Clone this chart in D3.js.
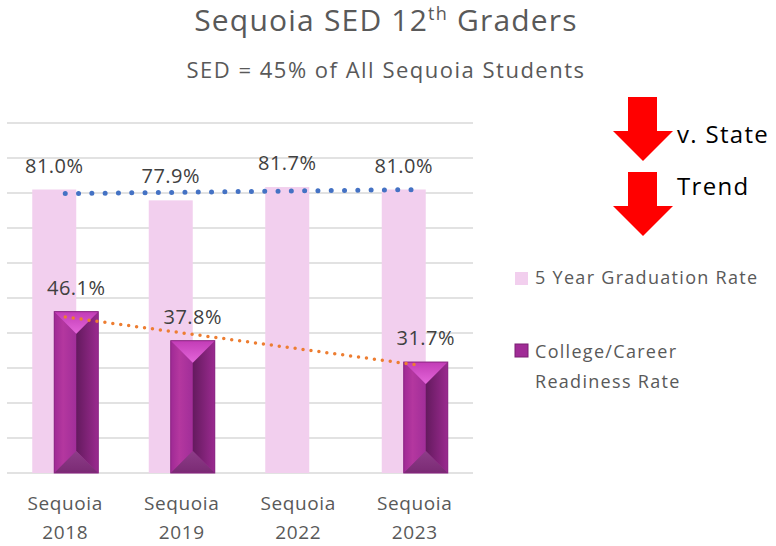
<!DOCTYPE html>
<html>
<head>
<meta charset="utf-8">
<script src="https://cdn.jsdelivr.net/npm/d3@7"></script>
<style>
  body { margin: 0; background: #fff; }
  text { font-family: "Open Sans", sans-serif; }
</style>
</head>
<body>
<script>
// data
var categories = ["Sequoia 2018", "Sequoia 2019", "Sequoia 2022", "Sequoia 2023"];
var gradRate = [81.0, 77.9, 81.7, 81.0];
var ccrRate = [46.1, 37.8, null, 31.7];
var yTicks = [0, 10, 20, 30, 40, 50, 60, 70, 80, 90, 100];
var seriesNames = ["5 Year Graduation Rate", "College/Career Readiness Rate"];

var W = 776, H = 546;
var svg = d3.select("body").append("svg").attr("width", W).attr("height", H);

var x = d3.scaleBand().domain(categories).range([7, 473]).padding(0);
var y = d3.scaleLinear().domain([0, 100]).range([473, 123]);
var barW = 44;
var cx = function(i){ return x(categories[i]) + x.bandwidth()/2; };

var defs = svg.append("defs");
var gL = defs.append("linearGradient").attr("id", "gl").attr("x1", 0).attr("x2", 1).attr("y1", 0).attr("y2", 0);
gL.append("stop").attr("offset", "0%").attr("stop-color", "#9f2a95");
gL.append("stop").attr("offset", "40%").attr("stop-color", "#b4379f");
gL.append("stop").attr("offset", "100%").attr("stop-color", "#a12e99");
var gR = defs.append("linearGradient").attr("id", "gr").attr("x1", 0).attr("x2", 1).attr("y1", 0).attr("y2", 0);
gR.append("stop").attr("offset", "0%").attr("stop-color", "#641a5e");
gR.append("stop").attr("offset", "100%").attr("stop-color", "#9a2a8f");
var gT = defs.append("linearGradient").attr("id", "gt").attr("x1", 0).attr("x2", 0).attr("y1", 0).attr("y2", 1);
gT.append("stop").attr("offset", "0%").attr("stop-color", "#c23cb6");
gT.append("stop").attr("offset", "100%").attr("stop-color", "#e466da");
var gB = defs.append("linearGradient").attr("id", "gb").attr("x1", 0).attr("x2", 0).attr("y1", 0).attr("y2", 1);
gB.append("stop").attr("offset", "0%").attr("stop-color", "#8d3d88");
gB.append("stop").attr("offset", "100%").attr("stop-color", "#7a2a74");

// title
svg.append("text").attr("x", 386).attr("y", 31).attr("text-anchor", "middle")
  .attr("font-size", 30).attr("letter-spacing", 1.2).attr("fill", "#595959")
  .html('Sequoia SED 12<tspan dy="-11" font-size="18">th</tspan><tspan dy="11"> Graders</tspan>');
svg.append("text").attr("x", 386).attr("y", 78).attr("text-anchor", "middle")
  .attr("font-size", 22).attr("letter-spacing", 1.5).attr("fill", "#595959").text("SED = 45% of All Sequoia Students");

// gridlines
svg.selectAll("line.grid").data(yTicks).enter().append("line")
  .attr("class", "grid")
  .attr("x1", 7).attr("x2", 473)
  .attr("y1", function(d){ return y(d); }).attr("y2", function(d){ return y(d); })
  .attr("stroke", "#d9d9d9").attr("stroke-width", 1.5);

// graduation bars
svg.selectAll("rect.grad").data(gradRate).enter().append("rect")
  .attr("class", "grad")
  .attr("x", function(d, i){ return cx(i) - 33; })
  .attr("y", function(d){ return y(d); })
  .attr("width", barW)
  .attr("height", function(d){ return y(0) - y(d); })
  .attr("fill", "#f2cfee");

// ccr bars (bevelled)
var ccrData = ccrRate.map(function(d, i){ return {v: d, i: i}; }).filter(function(d){ return d.v != null; });
function poly(pts){ return pts.map(function(p){ return p.join(","); }).join(" "); }
svg.selectAll("g.ccr").data(ccrData).enter().append("g").attr("class", "ccr")
  .each(function(d){
    var g = d3.select(this);
    var x0 = cx(d.i) - 11, x1 = x0 + barW, mx = x0 + barW/2;
    var t = y(d.v), b = y(0), h = barW/2;
    g.append("rect").attr("x", x0).attr("y", t).attr("width", barW).attr("height", b - t).attr("fill", "#a02c96");
    g.append("polygon").attr("points", poly([[x0,t],[mx,t+h],[mx,b-h],[x0,b]])).attr("fill", "url(#gl)");
    g.append("polygon").attr("points", poly([[x1,t],[mx,t+h],[mx,b-h],[x1,b]])).attr("fill", "url(#gr)");
    g.append("polygon").attr("points", poly([[x0,t],[x1,t],[mx,t+h]])).attr("fill", "url(#gt)");
    g.append("polygon").attr("points", poly([[x0,b],[x1,b],[mx,b-h]])).attr("fill", "url(#gb)");
    g.append("rect").attr("x", x0).attr("y", t).attr("width", barW).attr("height", b - t)
      .attr("fill", "none").attr("stroke", "#8a2582").attr("stroke-width", 1);
  });

// linear trendlines (least squares over category index)
function trend(vals){
  var pts = vals.map(function(v, i){ return [i, v]; }).filter(function(p){ return p[1] != null; });
  var mx = d3.mean(pts, function(p){ return p[0]; }), my = d3.mean(pts, function(p){ return p[1]; });
  var sxy = d3.sum(pts, function(p){ return (p[0]-mx)*(p[1]-my); });
  var sxx = d3.sum(pts, function(p){ return (p[0]-mx)*(p[0]-mx); });
  var m = sxy / sxx, c = my - m*mx;
  return [0, vals.length - 1].map(function(i){ return [i, m*i + c]; });
}
var line = d3.line().x(function(p){ return cx(p[0]); }).y(function(p){ return y(p[1]); });
svg.append("path").attr("d", line(trend(gradRate))).attr("fill", "none")
  .attr("stroke", "#4472c4").attr("stroke-width", 5).attr("stroke-linecap", "round")
  .attr("stroke-dasharray", "0 13.3");
svg.append("path").attr("d", line(trend(ccrRate))).attr("fill", "none")
  .attr("stroke", "#ed7d31").attr("stroke-width", 3.5).attr("stroke-linecap", "round")
  .attr("stroke-dasharray", "0 8");

// data labels
svg.selectAll("text.gl").data(gradRate).enter().append("text")
  .attr("x", function(d, i){ return cx(i) - 11; })
  .attr("y", function(d){ return y(d) - 17; })
  .attr("text-anchor", "middle").attr("font-size", 20).attr("letter-spacing", 0.5).attr("fill", "#404040")
  .text(function(d){ return d.toFixed(1) + "%"; });
svg.selectAll("text.cl").data(ccrData).enter().append("text")
  .attr("x", function(d){ return cx(d.i) + 11; })
  .attr("y", function(d){ return y(d.v) - 17; })
  .attr("text-anchor", "middle").attr("font-size", 20).attr("letter-spacing", 0.5).attr("fill", "#404040")
  .text(function(d){ return d.v.toFixed(1) + "%"; });

// category labels
svg.selectAll("text.cat").data(categories).enter().append("text")
  .attr("text-anchor", "middle").attr("font-size", 19).attr("letter-spacing", 0.6).attr("fill", "#595959")
  .each(function(d, i){
    var parts = d.split(" ");
    var t = d3.select(this);
    t.append("tspan").attr("x", cx(i)).attr("y", 510).text(parts[0]);
    t.append("tspan").attr("x", cx(i)).attr("y", 539).text(parts[1]);
  });

// arrows
var arrowTops = [97, 172];
svg.selectAll("path.arrow").data(arrowTops).enter().append("path")
  .attr("d", function(t){ return "M628," + t + "H657V" + (t+34) + "H673L643," + (t+64) + "L613," + (t+34) + "H628Z"; })
  .attr("fill", "#ff0000");
svg.append("text").attr("x", 677).attr("y", 143).attr("font-size", 24).attr("letter-spacing", 1.3).attr("fill", "#000").text("v. State");
svg.append("text").attr("x", 677).attr("y", 195).attr("font-size", 24).attr("letter-spacing", 1.3).attr("fill", "#000").text("Trend");

// legend
svg.append("rect").attr("x", 515).attr("y", 272).attr("width", 13).attr("height", 13).attr("fill", "#f2cfee");
svg.append("text").attr("x", 535).attr("y", 284).attr("font-size", 18).attr("letter-spacing", 1.3).attr("fill", "#595959").text(seriesNames[0]);
svg.append("rect").attr("x", 515).attr("y", 344).attr("width", 13).attr("height", 13).attr("fill", "#a02c96").attr("stroke", "#7a1f72");
svg.append("text").attr("font-size", 18).attr("letter-spacing", 1.3).attr("fill", "#595959")
  .selectAll("tspan").data(["College/Career", "Readiness Rate"]).enter().append("tspan")
  .attr("x", 535).attr("y", function(d, i){ return 358 + i*30; })
  .text(function(d){ return d; });
</script>
</body>
</html>
